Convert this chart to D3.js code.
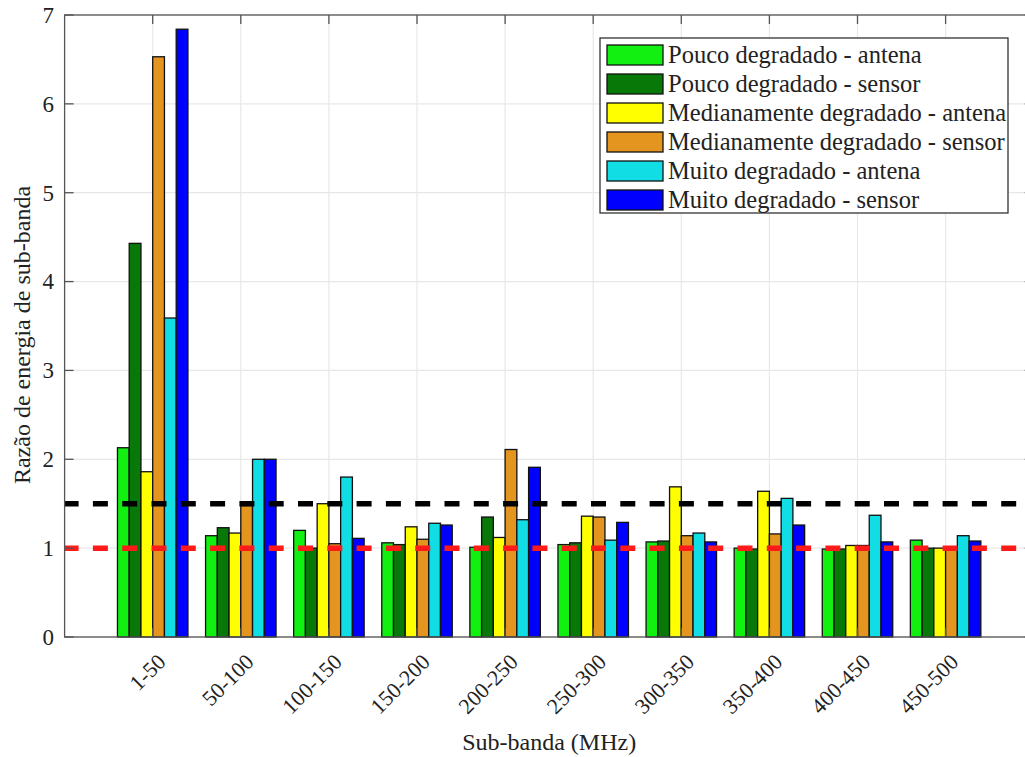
<!DOCTYPE html>
<html><head><meta charset="utf-8">
<script src="https://cdn.jsdelivr.net/npm/d3@7"></script>
<style>body{margin:0;background:#fff}svg{display:block}</style>
</head><body>
<svg id="c" width="1025" height="757" font-family="'Liberation Serif', 'Times New Roman', Tinos, 'DejaVu Serif', serif"></svg>
<script>
const categories = ["1-50","50-100","100-150","150-200","200-250","250-300","300-350","350-400","400-450","450-500"];
const seriesNames = ["Pouco degradado - antena","Pouco degradado - sensor","Medianamente degradado - antena","Medianamente degradado - sensor","Muito degradado - antena","Muito degradado - sensor"];
const poucoAntena   = [2.13,1.14,1.20,1.06,1.01,1.04,1.07,1.00,0.99,1.09];
const poucoSensor   = [4.43,1.23,1.00,1.04,1.35,1.06,1.08,0.99,0.99,1.00];
const medianAntena  = [1.86,1.17,1.50,1.24,1.12,1.36,1.69,1.64,1.03,1.00];
const medianSensor  = [6.53,1.48,1.05,1.10,2.11,1.35,1.14,1.16,1.03,1.00];
const muitoAntena   = [3.59,2.00,1.80,1.28,1.32,1.09,1.17,1.56,1.37,1.14];
const muitoSensor   = [6.84,2.00,1.11,1.26,1.91,1.29,1.07,1.26,1.07,1.08];
const seriesValues = [poucoAntena,poucoSensor,medianAntena,medianSensor,muitoAntena,muitoSensor];
const colors = ["#11f011","#087808","#ffff00","#e3951f","#10dde4","#0000ff"];
const yTicks = [0,1,2,3,4,5,6,7];
const thresholds = [{v:1.5,c:"#000"},{v:1.0,c:"#ff1a1a"}];

const svg = d3.select("#c");
const L=64.6, R=1033.7, T=15, B=637;
const x = d3.scaleLinear().domain([0,11]).range([L,R]);
const y = d3.scaleLinear().domain([0,7]).range([B,T]);
const groupW = 0.8, nS = seriesNames.length, bw = groupW/nS;

svg.append("defs").append("clipPath").attr("id","pc").append("rect")
  .attr("x",L).attr("y",T).attr("width",R-L).attr("height",B-T);

const g = svg.append("g");
g.selectAll(".gx").data(categories).join("line")
  .attr("x1",(d,i)=>x(i+1)).attr("x2",(d,i)=>x(i+1)).attr("y1",T).attr("y2",B)
  .attr("stroke","#e8e8e8").attr("stroke-width",1.2);
g.selectAll(".gy").data(yTicks).join("line")
  .attr("x1",L).attr("x2",R).attr("y1",d=>y(d)).attr("y2",d=>y(d))
  .attr("stroke","#e8e8e8").attr("stroke-width",1.2);

seriesValues.forEach((vals,s)=>{
  g.append("g").selectAll("rect").data(vals).join("rect")
    .attr("x",(d,i)=>x(i+1-groupW/2+s*bw))
    .attr("width",x(bw)-x(0))
    .attr("y",d=>y(d)).attr("height",d=>y(0)-y(d))
    .attr("fill",colors[s]).attr("stroke","#111").attr("stroke-width",1.3);
});

const tl = svg.append("g").attr("clip-path","url(#pc)");
thresholds.forEach(t=>{
  tl.append("line").attr("x1",x(0)-1).attr("x2",R).attr("y1",y(t.v)).attr("y2",y(t.v))
    .attr("stroke",t.c).attr("stroke-width",5.5).attr("stroke-dasharray","15,14.3");
});

const ax = svg.append("g").attr("stroke","#555").attr("stroke-width",1.3).attr("fill","none");
ax.append("rect").attr("x",L).attr("y",T).attr("width",R-L).attr("height",B-T);
yTicks.forEach(v=>{
  ax.append("line").attr("x1",L).attr("x2",L+9).attr("y1",y(v)).attr("y2",y(v));
  ax.append("line").attr("x1",R-9).attr("x2",R).attr("y1",y(v)).attr("y2",y(v));
});
categories.forEach((c,i)=>{
  ax.append("line").attr("x1",x(i+1)).attr("x2",x(i+1)).attr("y1",B).attr("y2",B-9);
  ax.append("line").attr("x1",x(i+1)).attr("x2",x(i+1)).attr("y1",T).attr("y2",T+9);
});

const tc = "#222";
svg.append("g").selectAll("text").data(yTicks).join("text")
  .attr("x",54).attr("y",d=>y(d)).attr("dy","0.34em").attr("text-anchor","end")
  .attr("fill",tc).attr("font-size",23).text(d=>d);
svg.append("g").selectAll("text").data(categories).join("text")
  .attr("transform",(d,i)=>`translate(${x(i+1)+9},658) rotate(-45)`)
  .attr("dy","0.34em").attr("text-anchor","end").attr("fill",tc).attr("font-size",22).text(d=>d);

svg.append("text").attr("x",(L+R)/2).attr("y",750).attr("text-anchor","middle")
  .attr("fill",tc).attr("font-size",24).text("Sub-banda (MHz)");
svg.append("text").attr("transform",`translate(30,335) rotate(-90)`).attr("text-anchor","middle")
  .attr("fill",tc).attr("font-size",24).text("Razão de energia de sub-banda");

const lg = svg.append("g");
lg.append("rect").attr("x",600).attr("y",38).attr("width",408).attr("height",175)
  .attr("fill","#fff").attr("stroke","#222").attr("stroke-width",1.2);
seriesNames.forEach((n,s)=>{
  const yy = 45 + s*29;
  lg.append("rect").attr("x",607).attr("y",yy).attr("width",56).attr("height",20)
    .attr("fill",colors[s]).attr("stroke","#111").attr("stroke-width",1.3);
  lg.append("text").attr("x",668).attr("y",yy+18).attr("fill",tc).attr("font-size",24.5).text(n);
});
</script>
</body></html>
